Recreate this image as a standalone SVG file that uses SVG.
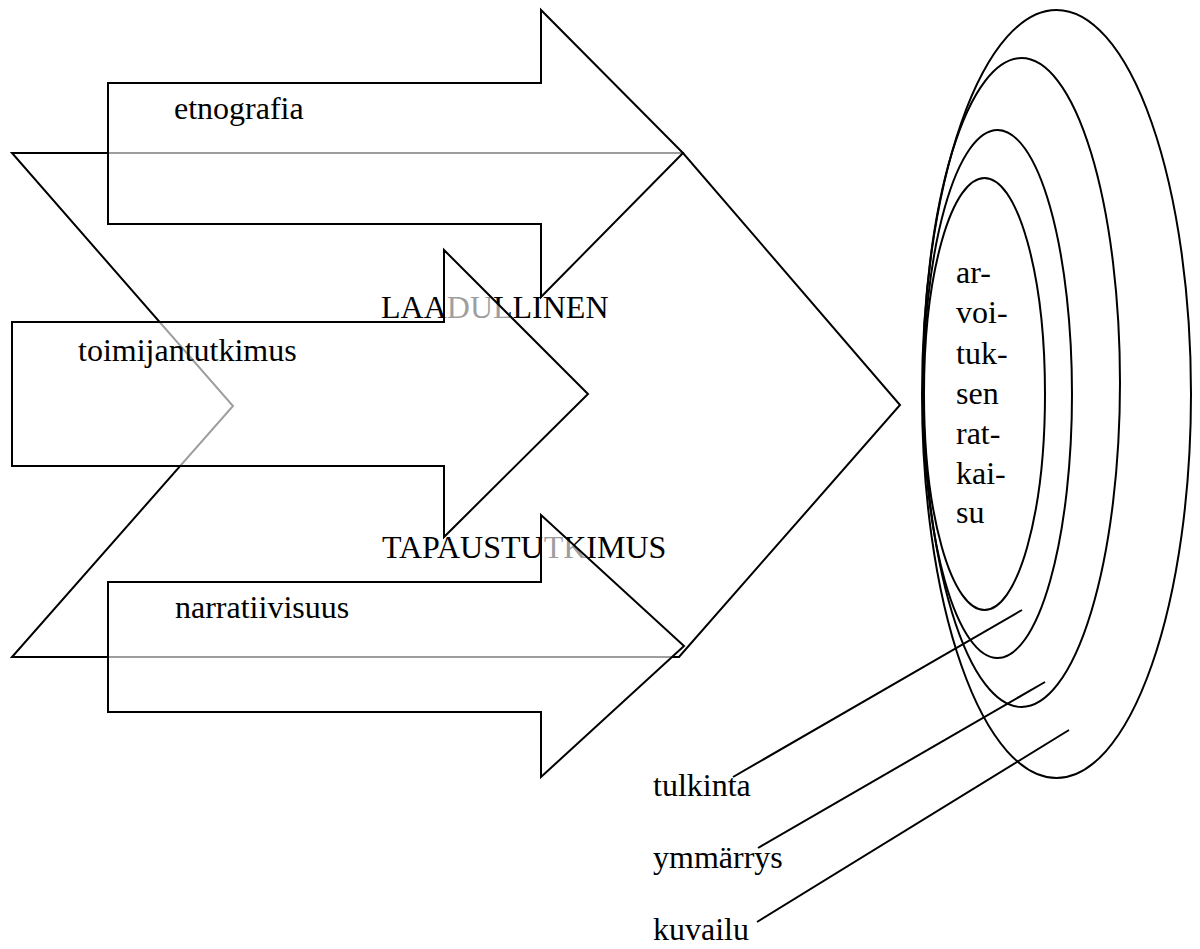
<svg xmlns="http://www.w3.org/2000/svg" width="1200" height="949" viewBox="0 0 1200 949">
<style>
.s{fill:none;stroke:#000;stroke-width:2;stroke-linejoin:miter}
.a{fill:#fff;fill-opacity:0.62;stroke:#000;stroke-width:2}
.t{font-family:"Liberation Serif","DejaVu Serif",serif;font-size:32px;fill:#000}
.c{fill:none;stroke:#000;stroke-width:2}
</style>
<rect width="1200" height="949" fill="#fff"/>
<g id="laadullinen">
<polygon class="s" points="12,153 683,153 900,405 679,657 12,657 233,406"/>
<text class="t" x="381" y="318">LAADULLINEN</text>
</g>
<g id="tapaustutkimus">
<text class="t" x="382" y="558">TAPAUSTUTKIMUS</text>
</g>
<g id="etnografia">
<polygon class="a" points="108,83 541,83 541,10 683,153 541,297 541,224 108,224"/>
<text class="t" x="174" y="119">etnografia</text>
</g>
<g id="toimijantutkimus">
<polygon class="a" points="12,322 444,322 444,250 588,394 444,537 444,466 12,466"/>
<text class="t" x="78" y="361">toimijantutkimus</text>
</g>
<g id="narratiivisuus">
<polygon class="a" points="108,582 541,582 541,515 684,646 541,777 541,712 108,712"/>
<text class="t" x="175" y="618">narratiivisuus</text>
</g>
<g id="kuvailu-ellipse"><ellipse class="s" cx="1056.5" cy="394" rx="134.5" ry="384"/></g>
<g id="ymmarrys-ellipse"><ellipse class="s" cx="1021.5" cy="382.5" rx="98.5" ry="324.5"/></g>
<g id="tulkinta-ellipse"><ellipse class="s" cx="997.5" cy="394" rx="74.5" ry="264"/></g>
<g id="arvoituksen-ratkaisu">
<ellipse class="s" cx="984.5" cy="394" rx="60.5" ry="216"/>
<text class="t" x="956" y="283">ar-</text>
<text class="t" x="956" y="323">voi-</text>
<text class="t" x="956" y="364">tuk-</text>
<text class="t" x="956" y="404">sen</text>
<text class="t" x="956" y="444">rat-</text>
<text class="t" x="956" y="484">kai-</text>
<text class="t" x="956" y="523">su</text>
</g>
<g id="connectors">
<line class="c" x1="733" y1="777" x2="1022" y2="610"/>
<line class="c" x1="758" y1="848" x2="1045" y2="682"/>
<line class="c" x1="757" y1="922" x2="1069" y2="730"/>
</g>
<g id="tulkinta"><text class="t" x="653" y="796">tulkinta</text></g>
<g id="ymmarrys"><text class="t" x="653" y="868">ymmärrys</text></g>
<g id="kuvailu"><text class="t" x="653" y="940">kuvailu</text></g>
</svg>
